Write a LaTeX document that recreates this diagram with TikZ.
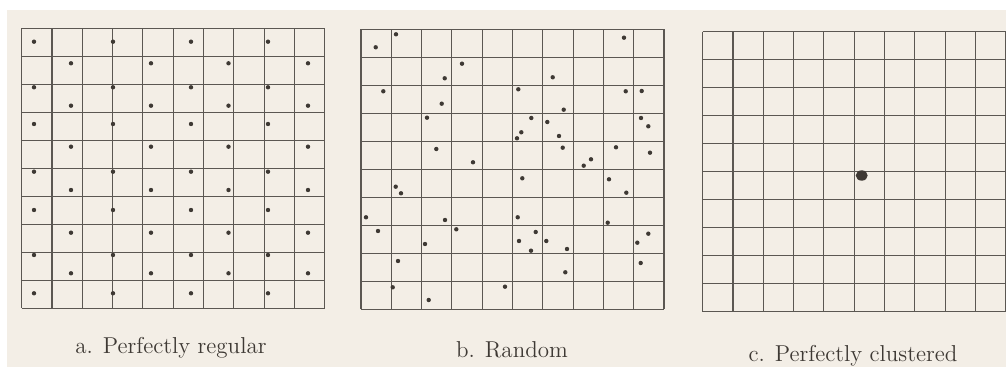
\documentclass[tikz,border=0pt]{standalone}
\usepackage{tikz}
\definecolor{paper}{HTML}{F3EEE6}
\definecolor{ink}{HTML}{3E3934}

\begin{document}
\begin{tikzpicture}[x=0.5pt,y=-0.5pt,gridline/.style={ink!85,line width=0.55pt},dot/.style={fill=ink},caption/.style={anchor=base,text=ink,font=\fontsize{11.5}{13}\selectfont}]
\useasboundingbox (0,0) rectangle (1006,367);
\fill[white] (0,0) rectangle (1006,367);
\fill[paper] (7,10) rectangle (1006,367);
% the three grids, 10 x 10 cells
\foreach \gx/\gy in %
{21.7/28.3,361/29.3,702.7/31.7} {
   \foreach \i in {0,...,10} {
      \draw[gridline] (\gx+30.3*\i,\gy) -- (\gx+30.3*\i,\gy+280);
      \draw[gridline] (\gx,\gy+28*\i) -- (\gx+303,\gy+28*\i);
   }
}
% a. regular points
\foreach \y in {41.7,87.3,124,171.7,210,255,293.3} {
   \foreach \x in {34,113,191,268} {
      \fill[dot] (\x,\y) circle[radius=1.1pt];
   }
}
\foreach \y in {63.3,105.7,146.7,190,232.7,273.3} {
   \foreach \x in {71,151,228.5,308} {
      \fill[dot] (\x,\y) circle[radius=1.1pt];
   }
}
% b. random points
\foreach \x/\y in %
{396/34.3,375.7/47.3,624/37.7,462/63.7,444.7/78.3,552.7/77.3,383.3/91.3,518.3/89.3,%
625.7/91.3,641.7/91,441.7/103.7,563.7/109.7,427/117.7,531.3/118,547.3/122,641/118,%
648.3/126.3,521.3/132.3,517/138.3,559/136,436.3/149,562.7/147.7,616/147.3,650/152.7,%
473/162.3,591/159.3,583.7/165.7,522.3/178.3,609/179.3,395.7/186.7,401/193.3,626.3/192.7,%
366/217.3,445/220,517.7/217.3,607.7/222.7,378/231,456.3/229.3,535.7/232,648.3/233.7,%
425/244,519/241,546.3/241,637.3/242.7,531/250.7,567/249,398/261,640.7/263,%
565.3/272.3,392.7/287.3,505/286.7,428.7/300} {
   \fill[dot] (\x,\y) circle[radius=1.1pt];
}
% c. one cluster
\fill[dot] (861.7,175.5) ellipse[x radius=3pt,y radius=2.6pt];
\node[caption] (capA) at (171,354) {a. Perfectly regular};
\node[caption] (capB) at (512,357.7) {b. Random};
\node[caption] (capC) at (853,362) {c. Perfectly clustered};
\end{tikzpicture}
\end{document}
